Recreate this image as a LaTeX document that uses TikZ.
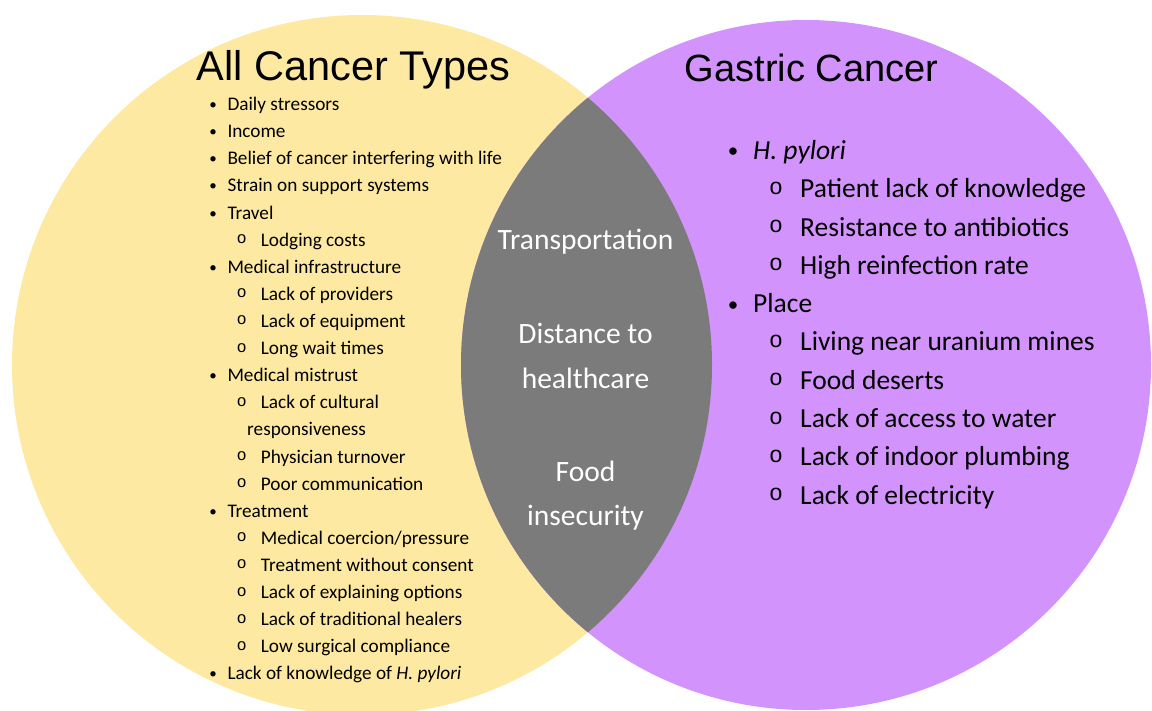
\documentclass[tikz,border=0pt]{standalone}
\usepackage{fontspec}
\setmainfont{Carlito}
\newfontfamily\titlefont{Liberation Sans}
\definecolor{venyellow}{HTML}{FDE9A2}
\definecolor{venpurple}{HTML}{D293FC}
\definecolor{vengray}{HTML}{7B7B7B}
\newcommand\Ly[1]{110.7+27.1*#1}
\newcommand\Ry[1]{159.5+38.3*#1}
\newcommand\LB[3]{\node[lbul] (#1b) at (213,{\Ly{#2}}) {•};\node[ltxt] (#1) at (227.3,{\Ly{#2}}) {#3};}
\newcommand\LS[3]{\node[lsub] (#1b) at (241.7,{\Ly{#2}}) {o};\node[ltxt] (#1) at (260.7,{\Ly{#2}}) {#3};}
\newcommand\RB[3]{\node[rbul] (#1b) at (733,{\Ry{#2}}) {•};\node[rtxt] (#1) at (753,{\Ry{#2}}) {#3};}
\newcommand\RS[3]{\node[rsub] (#1b) at (776,{\Ry{#2}}) {o};\node[rtxt] (#1) at (800,{\Ry{#2}}) {#3};}
\begin{document}
\begin{tikzpicture}[x=1pt,y=-1pt,
  ltxt/.style={anchor=base west,inner sep=0pt,font=\fontsize{19.25}{23}\selectfont},
  lbul/.style={anchor=base,inner sep=0pt,font=\fontsize{15}{18}\selectfont,yshift=1pt},
  lsub/.style={anchor=base,inner sep=0pt,font=\titlefont\fontsize{16.5}{20}\selectfont,yshift=2.5pt},
  rtxt/.style={anchor=base west,inner sep=0pt,font=\fontsize{27.5}{32}\selectfont},
  rbul/.style={anchor=base,inner sep=0pt,font=\fontsize{21}{25}\selectfont,yshift=1.5pt},
  rsub/.style={anchor=base,inner sep=0pt,font=\titlefont\fontsize{23}{27}\selectfont,yshift=3.5pt},
  lens/.style={anchor=base,inner sep=0pt,text=white,font=\fontsize{29.5}{34}\selectfont},
  title/.style={anchor=base,inner sep=0pt,font=\titlefont}]
\useasboundingbox (0,0) rectangle (1152,711);
\clip (0,0) rectangle (1152,711);
\coordinate (lc) at (362,365);
\coordinate (rc) at (806,365);
\fill[venyellow] (lc) circle[radius=350];
\fill[venpurple] (rc) circle[radius=345];
\begin{scope}
  \clip (lc) circle[radius=350];
  \fill[vengray] (rc) circle[radius=345];
\end{scope}
\node[title,font=\titlefont\fontsize{41.5}{48}\selectfont] (t1) at (353.5,81) {All Cancer Types};
\node[title,font=\titlefont\fontsize{38}{44}\selectfont] (t2) at (811.5,81.7) {Gastric Cancer};
\LB{a0}{0}{Daily stressors}
\LB{a1}{1}{Income}
\LB{a2}{2}{Belief of cancer interfering with life}
\LB{a3}{3}{Strain on support systems}
\LB{a4}{4}{Travel}
\LS{a5}{5}{Lodging costs}
\LB{a6}{6}{Medical infrastructure}
\LS{a7}{7}{Lack of providers}
\LS{a8}{8}{Lack of equipment}
\LS{a9}{9}{Long wait times}
\LB{a10}{10}{Medical mistrust}
\LS{a11}{11}{Lack of cultural}
\node[ltxt] (a12) at (247,{\Ly{12}}) {responsiveness};
\LS{a13}{13}{Physician turnover}
\LS{a14}{14}{Poor communication}
\LB{a15}{15}{Treatment}
\LS{a16}{16}{Medical coercion/pressure}
\LS{a17}{17}{Treatment without consent}
\LS{a18}{18}{Lack of explaining options}
\LS{a19}{19}{Lack of traditional healers}
\LS{a20}{20}{Low surgical compliance}
\LB{a21}{21}{Lack of knowledge of \textit{H. pylori}}
\RB{b0}{0}{\textit{H. pylori}}
\RS{b1}{1}{Patient lack of knowledge}
\RS{b2}{2}{Resistance to antibiotics}
\RS{b3}{3}{High reinfection rate}
\RB{b4}{4}{Place}
\RS{b5}{5}{Living near uranium mines}
\RS{b6}{6}{Food deserts}
\RS{b7}{7}{Lack of access to water}
\RS{b8}{8}{Lack of indoor plumbing}
\RS{b9}{9}{Lack of electricity}
\node[lens] (c1) at (585.5,249.3) {Transportation};
\node[lens] (c2) at (585.5,343.3) {Distance to};
\node[lens] (c3) at (585.5,388.3) {healthcare};
\node[lens] (c4) at (585.5,481.7) {Food};
\node[lens] (c5) at (585.5,525) {insecurity};
\end{tikzpicture}
\end{document}
